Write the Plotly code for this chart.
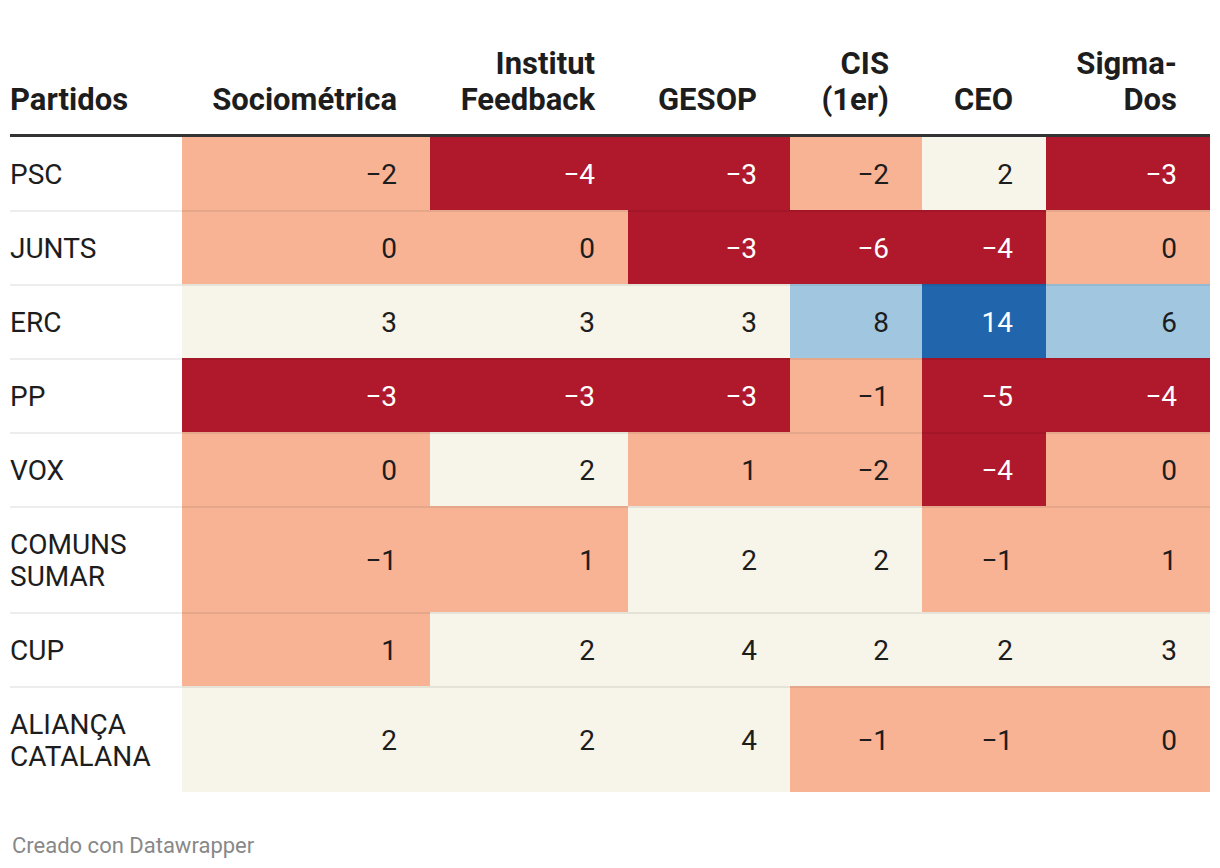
import plotly.graph_objects as go

# ---- data ----
partidos = ["PSC", "JUNTS", "ERC", "PP", "VOX", "COMUNS\nSUMAR", "CUP", "ALIANÇA\nCATALANA"]
encuestas = ["Sociométrica", "Institut\nFeedback", "GESOP", "CIS\n(1er)", "CEO", "Sigma-\nDos"]
sociometrica = [-2, 0, 3, -3, 0, -1, 1, 2]
institut_feedback = [-4, 0, 3, -3, 2, 1, 2, 2]
gesop = [-3, -3, 3, -3, 1, 2, 4, 4]
cis = [-2, -6, 8, -1, -2, 2, 2, -1]
ceo = [2, -4, 14, -5, -4, -1, 2, -1]
sigma_dos = [-3, 0, 6, -4, 0, 1, 3, 0]
header_label = "Partidos"
footer = "Creado con Datawrapper"

series = [sociometrica, institut_feedback, gesop, cis, ceo, sigma_dos]

# ---- styles / layout config ----
W, H = 1220, 868
PAGE_MARGIN = 8  # default body margin of the html page
FONT = "Roboto"
left = 10
label_w = 172
col_w = [248, 198, 162, 132, 124, 164]
table_top = 136
row_h = [74, 74, 74, 74, 74, 106, 74, 106]
pad_r = 33
body_gap = 32
head_gap = 36
body_size = 28
head_size = 31
body_dy = 3
head_base = 102
dark_txt = "#1d1d1d"

bins = [-2.5, 1.5, 4.5, 10]
bin_colors = ["#b0182b", "#f8b394", "#f7f5e9", "#a1c7e0", "#2166ac"]
bin_txt = ["#ffffff", dark_txt, dark_txt, dark_txt, "#ffffff"]

zmin, zmax = -6, 14

def bin_of(v):
    for i, b in enumerate(bins):
        if v < b:
            return i
    return len(bins)

# stepped colorscale
cs = []
edges_n = [0.0] + [(b - zmin) / (zmax - zmin) for b in bins] + [1.0]
for i, c in enumerate(bin_colors):
    cs.append([edges_n[i], c])
    cs.append([edges_n[i + 1], c])

# geometry
x_edges = [left + label_w]
for w in col_w:
    x_edges.append(x_edges[-1] + w)
y_edges = [table_top]
for h in row_h:
    y_edges.append(y_edges[-1] + h)

z = [[series[c][r] for c in range(len(series))] for r in range(len(partidos))]

fig = go.Figure()
fig.add_trace(go.Heatmap(
    z=z, x=x_edges, y=y_edges, colorscale=cs, zmin=zmin, zmax=zmax,
    showscale=False, hoverinfo="skip"))

# numbers
nx, ny, nt, nc = [], [], [], []
for r in range(len(partidos)):
    yc = (y_edges[r] + y_edges[r + 1]) / 2 + 1 + body_dy
    for c in range(len(series)):
        v = series[c][r]
        nx.append(x_edges[c + 1] - pad_r)
        ny.append(yc)
        nt.append(str(v).replace("-", "\u2212"))
        nc.append(bin_txt[bin_of(v)])
fig.add_trace(go.Scatter(x=nx, y=ny, text=nt, mode="text", textposition="middle left",
                         textfont=dict(family=FONT, size=body_size, color=nc),
                         hoverinfo="skip", showlegend=False))

# row labels
lx, ly, lt = [], [], []
for r, lab in enumerate(partidos):
    yc = (y_edges[r] + y_edges[r + 1]) / 2 + 1 + body_dy
    parts = lab.split("\n")
    n = len(parts)
    for i, p in enumerate(parts):
        lx.append(left)
        ly.append(yc + (i - (n - 1) / 2) * body_gap)
        lt.append(p)
fig.add_trace(go.Scatter(x=lx, y=ly, text=lt, mode="text", textposition="middle right",
                         textfont=dict(family=FONT, size=body_size, color=dark_txt),
                         hoverinfo="skip", showlegend=False))

# headers (bottom-aligned)
hx, hy, ht = [], [], []
for c, name in enumerate(encuestas):
    parts = name.split("\n")
    n = len(parts)
    for i, p in enumerate(parts):
        hx.append(x_edges[c + 1] - pad_r)
        hy.append(head_base - (n - 1 - i) * head_gap)
        ht.append("<b>" + p + "</b>")
fig.add_trace(go.Scatter(x=hx, y=hy, text=ht, mode="text", textposition="middle left",
                         textfont=dict(family=FONT, size=head_size, color=dark_txt),
                         hoverinfo="skip", showlegend=False))
fig.add_trace(go.Scatter(x=[left], y=[head_base], text=["<b>" + header_label + "</b>"],
                         mode="text", textposition="middle right",
                         textfont=dict(family=FONT, size=head_size, color=dark_txt),
                         hoverinfo="skip", showlegend=False))

shapes = []
# row separators
for yv in y_edges[1:-1]:
    shapes.append(dict(type="line", x0=left, x1=x_edges[-1], y0=yv + 1, y1=yv + 1,
                       line=dict(color="rgba(0,0,0,0.07)", width=2), layer="above"))
# header rule
shapes.append(dict(type="line", x0=left, x1=x_edges[-1], y0=table_top - 0.5, y1=table_top - 0.5,
                   line=dict(color="#333333", width=3), layer="above"))

fig.update_layout(
    width=W - PAGE_MARGIN, height=H - PAGE_MARGIN, margin=dict(l=0, r=0, t=0, b=0),
    paper_bgcolor="white", plot_bgcolor="white",
    xaxis=dict(range=[PAGE_MARGIN, W], visible=False, fixedrange=True),
    yaxis=dict(range=[H, PAGE_MARGIN], visible=False, fixedrange=True),
    shapes=shapes, showlegend=False,
    annotations=[dict(text=footer, x=left, y=845, xref="x", yref="y",
                      xanchor="left", yanchor="middle", showarrow=False,
                      font=dict(family=FONT, size=22, color="#888888"))],
)

fig.write_html("out.html", config={"displayModeBar": False})
